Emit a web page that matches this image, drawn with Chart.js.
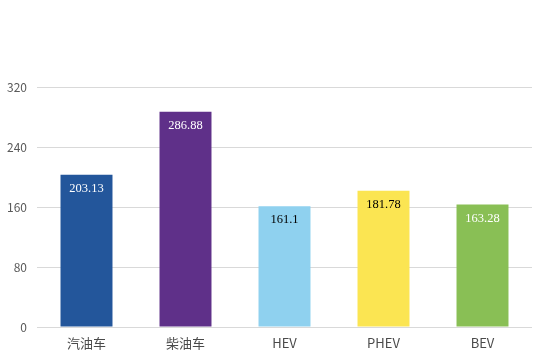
<!DOCTYPE html>
<html>
<head>
<meta charset="utf-8">
<script src="https://cdn.jsdelivr.net/npm/chart.js@4"></script>
<style>
  html, body { margin: 0; padding: 0; background: #ffffff; }
  #wrap { width: 554px; height: 358px; }
</style>
</head>
<body>
<div id="wrap"><canvas id="chart"></canvas></div>
<script>
// categories and values
const categories = ['汽油车', '柴油车', 'HEV', 'PHEV', 'BEV'];
const values = [203.13, 286.88, 161.1, 181.78, 163.28];
const yTicks = [0, 80, 160, 240, 320];

const barColors = ['#23569b', '#5f3089', '#8fd1ef', '#fbe552', '#89bf55'];
const labelColors = ['#ffffff', '#ffffff', '#000000', '#000000', '#ffffff'];

// draws the value text just inside the top of each bar
const valueLabels = {
    id: 'valueLabels',
    afterDatasetsDraw(chart) {
        const ctx = chart.ctx;
        const meta = chart.getDatasetMeta(0);
        ctx.save();
        ctx.font = '12.5px "Liberation Serif", "DejaVu Serif", serif';
        ctx.textAlign = 'center';
        ctx.textBaseline = 'middle';
        meta.data.forEach((bar, i) => {
            ctx.fillStyle = labelColors[i];
            ctx.fillText(String(values[i]), bar.x, bar.y + 14);
        });
        ctx.restore();
    }
};

const ctx = document.getElementById('chart').getContext('2d');
new Chart(ctx, {
    type: 'bar',
    data: {
        labels: categories,
        datasets: [{
            data: values,
            backgroundColor: barColors,
            borderWidth: 0,
            barPercentage: 0.525,
            categoryPercentage: 1
        }]
    },
    options: {
        responsive: true,
        maintainAspectRatio: false,
        animation: false,
        layout: { padding: { top: 87, right: 22, left: 0, bottom: 0 } },
        plugins: {
            legend: { display: false },
            tooltip: { enabled: false }
        },
        scales: {
            x: {
                grid: { display: false, drawTicks: false },
                border: { display: false },
                ticks: {
                    color: '#4a4a4a',
                    padding: 8,
                    font: { size: 13, family: '"Noto Sans CJK SC", "Noto Sans", sans-serif' }
                },
                afterFit(scale) { scale.height = 31; }
            },
            y: {
                min: 0,
                max: 320,
                afterBuildTicks(scale) {
                    scale.ticks = yTicks.map(v => ({ value: v }));
                },
                grid: { color: '#d9d9d9', drawTicks: false, lineWidth: 1 },
                border: { display: false },
                ticks: {
                    color: '#595959',
                    padding: 10,
                    font: { size: 12, family: '"Noto Sans CJK SC", "Noto Sans", sans-serif' }
                },
                afterFit(scale) { scale.width = 37; }
            }
        }
    },
    plugins: [valueLabels]
});
</script>
</body>
</html>
